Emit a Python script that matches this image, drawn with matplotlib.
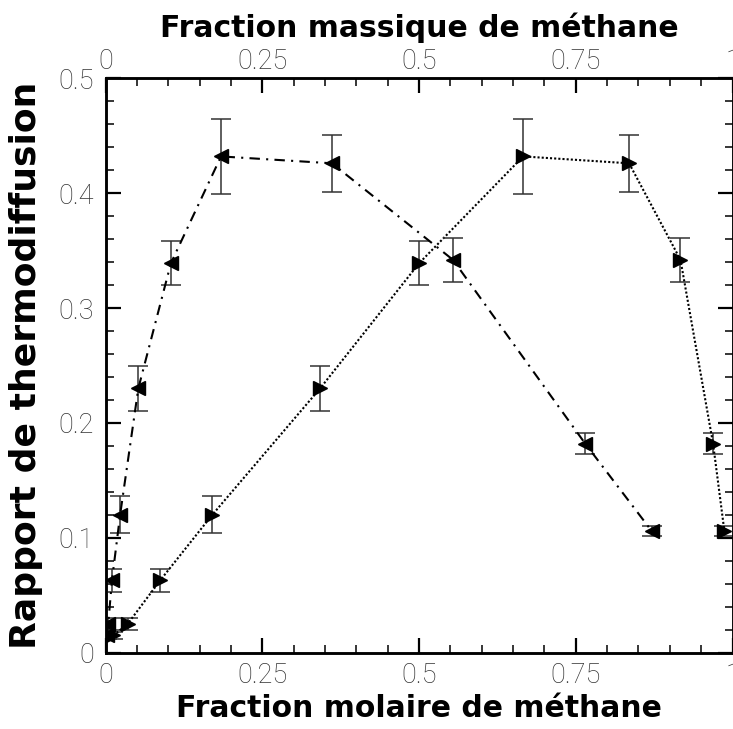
import matplotlib
matplotlib.use('Agg')
import matplotlib.pyplot as plt
from matplotlib.ticker import MultipleLocator

# rapport de thermodiffusion, methane / n-decane
rapport = [0.015, 0.025, 0.063, 0.120, 0.230, 0.339, 0.432, 0.426, 0.342, 0.182, 0.106]
erreur = [0.003, 0.005, 0.010, 0.016, 0.020, 0.019, 0.033, 0.025, 0.019, 0.009, 0.004]
x_molaire = [0.012, 0.035, 0.087, 0.170, 0.342, 0.500, 0.666, 0.835, 0.917, 0.969, 0.987]
w_massique = [0.0015, 0.004, 0.010, 0.023, 0.052, 0.104, 0.184, 0.361, 0.554, 0.765, 0.871]

xticks = [0, 0.25, 0.5, 0.75, 1]
xtick_labels = ['0', '0.25', '0.5', '0.75', '1']
yticks = [0, 0.1, 0.2, 0.3, 0.4, 0.5]
ytick_labels = ['0', '0.1', '0.2', '0.3', '0.4', '0.5']

W, H = 733, 729
fig = plt.figure(figsize=(W / 100, H / 100), dpi=100)
ax = fig.add_axes([105.7 / W, 76.3 / H, 626.8 / W, 574.4 / H])

tickfont = dict(family='Roboto', weight='light', size=19.5)
titlefont = dict(family='DejaVu Sans', weight='bold', size=21.5)

eb = dict(fmt='none', ecolor='#333333', elinewidth=1.1, capsize=7.5, capthick=1.1, zorder=2)

# fraction molaire (axe du bas)
ax.errorbar(x_molaire, rapport, yerr=erreur, **eb)
ax.plot(x_molaire, rapport, color='black', lw=1.5, ls=(0, (1, 1)),
        marker='>', ms=10.5, mfc='black', mec='black', zorder=3)

ax.set_xlim(0, 1)
ax.set_ylim(0, 0.5)
ax.set_xticks(xticks)
ax.set_xticklabels(xtick_labels, fontdict=tickfont, color='#333333')
ax.set_yticks(yticks)
ax.set_yticklabels(ytick_labels, fontdict=tickfont, color='#333333')
ax.xaxis.set_minor_locator(MultipleLocator(0.05))
ax.yaxis.set_minor_locator(MultipleLocator(0.02))
ax.tick_params(axis='x', which='both', direction='in', top=False, bottom=True)
ax.tick_params(axis='x', which='major', pad=6.5)
ax.tick_params(axis='y', which='both', direction='in', left=True, right=True)
ax.tick_params(axis='y', which='major', pad=8.5)
ax.tick_params(which='major', length=11, width=1.6)
ax.tick_params(which='minor', length=6, width=1.1)
ax.set_xlabel('Fraction molaire de méthane', fontdict=titlefont)
ax.xaxis.set_label_coords(0.5, -0.072)

# fraction massique (axe du haut)
ax2 = ax.twiny()
ax2.errorbar(w_massique, rapport, yerr=erreur, **eb)
ax2.plot(w_massique, rapport, color='black', lw=1.5, ls=(0, (5, 3, 1, 3)),
         marker='<', ms=10.5, mfc='black', mec='black', zorder=3)
ax2.set_xlim(0, 1)
ax2.set_xticks(xticks)
ax2.set_xticklabels(xtick_labels, fontdict=tickfont, color='#333333')
ax2.xaxis.set_minor_locator(MultipleLocator(0.05))
ax2.tick_params(axis='x', which='both', direction='in', top=True, bottom=False)
ax2.tick_params(axis='x', which='major', pad=2.5, length=11, width=1.6)
ax2.tick_params(axis='x', which='minor', length=6, width=1.1)
ax2.set_xlabel('Fraction massique de méthane', fontdict=titlefont)
ax2.xaxis.set_label_coords(0.5, 1.072)

for a in (ax, ax2):
    for s in a.spines.values():
        s.set_linewidth(1.8)

fig.text(26 / W, 0.5 * (76.3 + 650.7) / H, 'Rapport de thermodiffusion',
         rotation=90, ha='center', va='center',
         family='DejaVu Sans', weight='bold', size=26)

fig.savefig('out.png', dpi=100)
